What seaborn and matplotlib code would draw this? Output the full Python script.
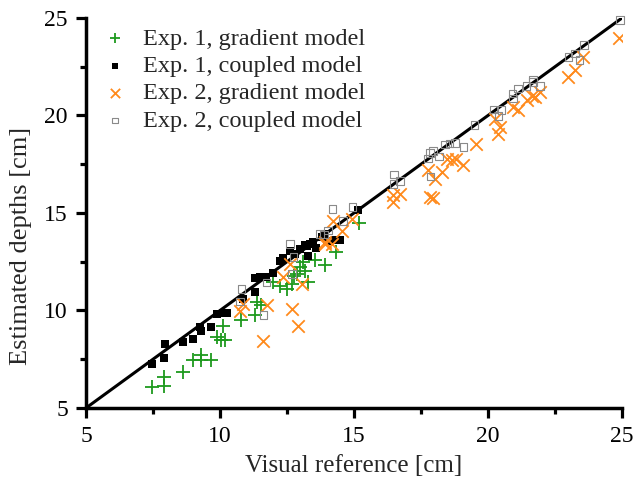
import numpy as np
import matplotlib
matplotlib.use('Agg')
import matplotlib.pyplot as plt
from matplotlib.ticker import MultipleLocator
import seaborn as sns

#Exp. 1, gradient model
exp1_grad_x = [7.45, 7.91, 7.91, 8.61, 8.98, 9.28, 9.28, 9.65, 9.88, 10.05, 10.2, 10.1,
               10.8, 11.3, 11.37, 11.52, 11.99, 12.24, 12.49, 12.68, 12.86, 12.99, 13.17,
               13.3, 13.55, 13.92, 14.33, 15.2, 12.75, 13.1]
exp1_grad_y = [6.08, 6.59, 6.13, 6.87, 7.48, 7.72, 7.45, 7.48, 8.65, 8.48, 8.48, 9.22,
               9.53, 9.78, 10.41, 10.3, 11.44, 11.27, 11.1, 11.35, 11.87, 12.21, 12.04,
               11.44, 12.6, 12.35, 13.0, 14.47, 11.75, 12.5]

#Exp. 1, coupled model
exp1_coup_x = [7.45, 7.95, 7.91, 8.61, 8.98, 9.28, 9.25, 9.66, 9.9, 10.1, 10.27, 10.87,
               11.3, 11.3, 11.49, 11.7, 11.99, 12.24, 12.36, 12.8, 12.99, 13.17, 13.36,
               13.48, 13.79, 13.92, 13.3, 13.23, 14.0, 14.3, 14.48, 15.16, 12.6, 13.6]
exp1_coup_y = [7.25, 8.27, 7.55, 8.36, 8.53, 8.96, 9.15, 9.13, 9.82, 9.85, 9.88, 10.59,
               10.93, 11.65, 11.7, 11.7, 11.9, 12.52, 12.7, 12.9, 13.16, 13.38, 13.41,
               13.5, 13.76, 13.9, 12.8, 13.33, 13.55, 13.6, 13.59, 15.13, 13.05, 13.2]

#Exp. 2, gradient model
exp2_grad_x = [10.75, 10.86, 11.74, 11.62, 12.36, 12.61, 13.05, 12.68, 12.92, 13.92, 14.23,
               14.54, 14.91, 13.92, 14.17, 16.47, 16.72, 16.47, 17.85, 17.95, 17.77, 18.02,
               18.27, 18.46, 18.64, 18.8, 19.05, 19.55, 20.38, 20.26, 20.45, 20.94, 21.13,
               21.44, 21.63, 21.75, 21.94, 23.0, 23.25, 23.56, 24.9]
exp2_grad_y = [9.95, 10.33, 10.27, 8.44, 11.7, 12.39, 11.35, 10.07, 9.22, 13.5, 14.61,
               14.1, 14.7, 13.41, 13.41, 15.9, 15.99, 15.56, 15.8, 15.75, 17.22, 16.75,
               17.1, 17.79, 17.7, 17.79, 17.44, 18.56, 19.07, 19.84, 19.41, 20.41, 20.27,
               20.78, 20.99, 20.95, 21.21, 21.98, 22.33, 23.0, 23.95]

#Exp. 2, coupled model
exp2_coup_x = [10.8, 10.75, 11.62, 11.74, 12.61, 12.74, 12.68, 13.73, 13.88, 14.04, 14.2,
               14.6, 14.94, 16.49, 16.47, 16.72, 17.84, 17.94, 17.77, 18.18, 18.4, 18.56,
               18.77, 19.08, 17.86, 19.5, 20.2, 20.51, 20.39, 20.94, 20.92, 21.13, 21.44,
               21.67, 21.67, 21.94, 23.0, 23.25, 23.58, 23.41, 24.93]
exp2_coup_y = [11.1, 10.47, 9.78, 11.44, 13.41, 12.73, 11.87, 13.93, 13.9, 14.1, 15.22,
               14.58, 15.3, 16.98, 16.5, 16.64, 18.07, 18.18, 17.79, 17.9, 18.52, 18.56,
               18.59, 18.38, 16.88, 19.5, 20.31, 20.27, 19.96, 20.87, 21.13, 21.38, 21.5,
               21.73, 21.85, 21.5, 23.0, 23.18, 23.6, 22.84, 24.9]

#identity line
line_x = [5, 25]
line_y = [5, 25]

sns.set_style("ticks")
plt.rcParams['font.family'] = ['Liberation Serif', 'DejaVu Serif']

fig = plt.figure(figsize=(6.35, 4.86), dpi=100)
ax = fig.add_axes([0.1354, 0.1605, 0.8441, 0.8025])

green = '#1e9a1e'
orange = '#ff8a1c'

sns.lineplot(x=line_x, y=line_y, color='black', linewidth=2.2, ax=ax, zorder=1)
sns.scatterplot(x=exp1_grad_x, y=exp1_grad_y, marker='+', s=110, color=green,
                linewidth=1.3, label='Exp. 1, gradient model', ax=ax, zorder=3)
sns.scatterplot(x=exp1_coup_x, y=exp1_coup_y, marker='s', s=26, color='black',
                edgecolor='black', linewidth=0, label='Exp. 1, coupled model', ax=ax, zorder=3)
sns.scatterplot(x=exp2_grad_x, y=exp2_grad_y, marker='x', s=80, color=orange,
                linewidth=1.3, label='Exp. 2, gradient model', ax=ax, zorder=3)
sns.scatterplot(x=exp2_coup_x, y=exp2_coup_y, marker='s', s=30, facecolors='none',
                edgecolor='#8a8a8a', linewidth=0.8, label='Exp. 2, coupled model', ax=ax,
                zorder=4, clip_on=False)

ax.set_xlim(5, 25)
ax.set_ylim(5, 25)
ax.xaxis.set_major_locator(MultipleLocator(5))
ax.xaxis.set_minor_locator(MultipleLocator(2.5))
ax.yaxis.set_major_locator(MultipleLocator(5))
ax.yaxis.set_minor_locator(MultipleLocator(2.5))
ax.tick_params(which='major', direction='out', length=7, width=2.3, labelsize=17,
               color='black', labelcolor='black', pad=6)
ax.tick_params(which='minor', direction='out', length=4, width=2.3, color='black')
for side in ['left', 'bottom']:
    ax.spines[side].set_linewidth(2.5)
    ax.spines[side].set_color('black')
sns.despine(ax=ax)

ax.set_xlabel('Visual reference [cm]', fontsize=18, labelpad=6)
ax.set_ylabel('Estimated depths [cm]', fontsize=19)
ax.yaxis.set_label_coords(-0.10, 0.415)

ax.legend(loc='upper left', bbox_to_anchor=(0.0, 1.0), frameon=False, fontsize=17.5,
          labelspacing=0.22, handletextpad=0.33, borderaxespad=0.0, markerscale=0.75,
          handlelength=1.6)

plt.savefig('out.png', dpi=100)
